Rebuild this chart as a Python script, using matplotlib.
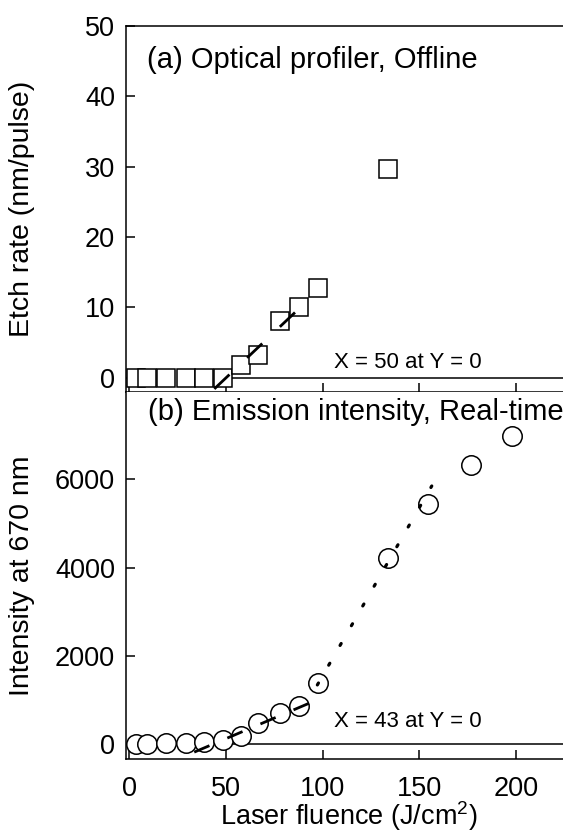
import matplotlib
matplotlib.use("Agg")
import matplotlib.pyplot as plt
import numpy as np

plt.rcParams['font.family'] = ['Liberation Sans', 'DejaVu Sans']
plt.rcParams['mathtext.default'] = 'regular'
plt.rcParams['lines.scale_dashes'] = False

# Laser fluence values (J/cm^2)
fluence = [3.5, 9.2, 19.2, 29.5, 38.8, 48.3, 57.7, 66.5, 77.8, 87.8, 97.5, 133.8,
           154.7, 176.9, 198.1]
# (a) etch rate measured offline by optical profiler (nm/pulse)
etch_rate = [0, 0, 0, 0, 0, 0, 1.9, 3.2, 8.1, 10.1, 12.7, 29.7]
# (b) real-time emission intensity at 670 nm
intensity = [20, 20, 40, 40, 60, 100, 190, 480, 720, 870, 1400, 4220,
             5430, 6310, 6970]

# Linear fits: threshold fluence where the fit crosses zero, and slope
etch_threshold, etch_slope = 50, 0.26
etch_fit_range = [44, 88]
emis_threshold, emis_slope = 43, 18.6
emis_fit_range = [33.6, 93]
# High-fluence trend (dotted)
high_x0, high_slope = 79.6, 76.0
high_fit_range = [97.3, 156.5]

xlim = (-1.7, 224.4)
x_ticks = [0, 50, 100, 150, 200]
etch_ticks = [0, 10, 20, 30, 40, 50]
emis_ticks = [0, 2000, 4000, 6000]

W, H = 563, 834
fig = plt.figure(figsize=(W / 100, H / 100), dpi=100)

left = 126 / W
width = 1.0 - left
ax_a = fig.add_axes([left, 1 - 392 / H, width, (392 - 25.7) / H])
ax_b = fig.add_axes([left, 1 - 759 / H, width, (759 - 392) / H])

TICK_FS = 19.5
LABEL_FS = 20.5

for ax in (ax_a, ax_b):
    ax.set_xlim(*xlim)
    ax.spines['right'].set_visible(False)
    for s in ax.spines.values():
        s.set_linewidth(1.1)
    ax.set_xticks(x_ticks)
    ax.tick_params(direction='in', length=6.7, width=1.1, labelsize=TICK_FS, pad=8)
    ax.tick_params(axis='x', pad=12)

ax_b.spines['top'].set_visible(False)
ax_a.tick_params(axis='x', labelbottom=False)

# ---- (a) etch rate ----
ax_a.set_ylim(-2, 50)
ax_a.set_yticks(etch_ticks)
ax_a.plot([etch_threshold, xlim[1]], [0, 0], color='black', lw=1.1, zorder=2)
ax_a.plot(fluence[:len(etch_rate)], etch_rate, ls='none', marker='s', ms=13,
          mfc='white', mec='black', mew=1.1, zorder=3)
fx = np.array(etch_fit_range)
line, = ax_a.plot(fx, etch_slope * (fx - etch_threshold), color='black', lw=2.0,
                  zorder=4, solid_capstyle='butt')
line.set_dashes((15, 17.5))
ax_a.set_ylabel('Etch rate (nm/pulse)', fontsize=LABEL_FS)
ax_a.yaxis.set_label_coords(-0.208, 0.5)
ax_a.text(0.048, 0.8845, '(a) Optical profiler, Offline', transform=ax_a.transAxes,
          fontsize=21, ha='left', va='baseline')
ax_a.text(0.814, 0.0647, f'X = {etch_threshold} at Y = 0', transform=ax_a.transAxes,
          fontsize=16, ha='right', va='baseline')

# ---- (b) emission intensity ----
ax_b.set_ylim(-330, 7970)
ax_b.set_yticks(emis_ticks)
ax_b.plot([emis_threshold, xlim[1]], [0, 0], color='black', lw=1.1, zorder=2)
ax_b.plot(fluence, intensity, ls='none', marker='o', ms=14,
          mfc='white', mec='black', mew=1.1, zorder=3)
fx = np.array(emis_fit_range)
line, = ax_b.plot(fx, emis_slope * (fx - emis_threshold), color='black', lw=2.0,
                  zorder=4)
line.set_dashes((11.9, 14))
fx = np.array(high_fit_range)
line, = ax_b.plot(fx, high_slope * (fx - high_x0), color='black', lw=2.3,
                  zorder=4, dash_capstyle='round')
line.set_dashes((1.6, 14.8))
ax_b.set_ylabel('Intensity at 670 nm', fontsize=LABEL_FS)
ax_b.yaxis.set_label_coords(-0.208, 0.5)
ax_b.set_xlabel('Laser fluence (J/cm$^2$)', fontsize=19.5, va='baseline')
ax_b.xaxis.set_label_coords(0.511, -0.18)
ax_b.text(0.051, 0.925, '(b) Emission intensity, Real-time', transform=ax_b.transAxes,
          fontsize=21, ha='left', va='baseline')
ax_b.text(0.814, 0.087, f'X = {emis_threshold} at Y = 0', transform=ax_b.transAxes,
          fontsize=16, ha='right', va='baseline')

fig.savefig('out.png', dpi=100)
